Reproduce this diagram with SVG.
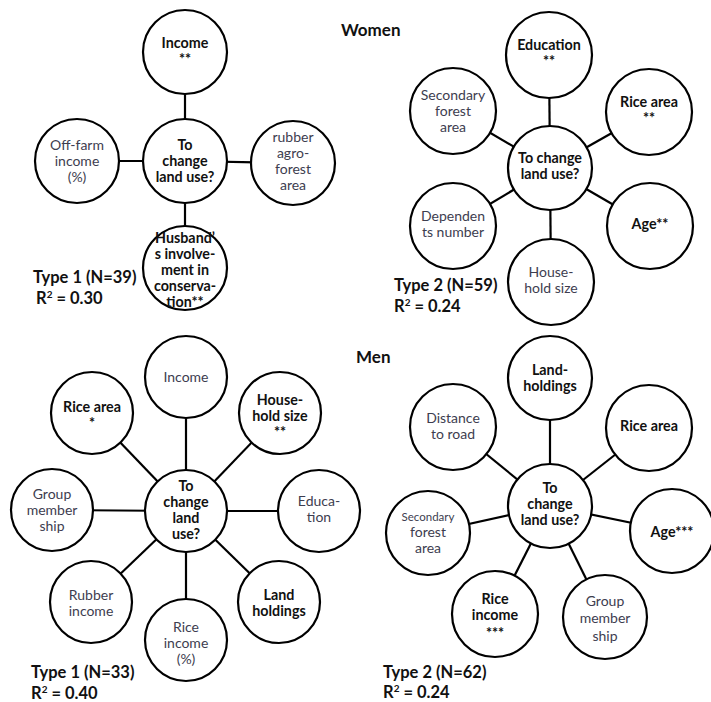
<svg xmlns="http://www.w3.org/2000/svg" width="711" height="702" viewBox="0 0 711 702">
<style>
  .bg { fill: #ffffff; }
  .node circle { fill: #ffffff; stroke: #000000; stroke-width: 2.2; }
  .links line { stroke: #000000; stroke-width: 2.2; }
  text { font-family: Lato, "Open Sans", "Liberation Sans", sans-serif; font-size: 14px; text-anchor: middle; }
  .b { font-weight: bold; fill: #111111; font-size: 14.3px; }
  .n { fill: #3d3d4f; }
  .s { font-size: 11.5px; }
  .h { font-weight: bold; fill: #111111; font-size: 16.5px; text-anchor: start; }
  .sup { font-size: 10px; }
</style>
<rect class="bg" x="0" y="0" width="711" height="702"/>

<g id="connectors" class="links">
  <line x1="185" y1="161" x2="185" y2="52"/>
  <line x1="185" y1="161" x2="77" y2="161"/>
  <line x1="185" y1="161" x2="293" y2="163"/>
  <line x1="185" y1="161" x2="185" y2="268"/>
  <line x1="550" y1="168" x2="549" y2="55"/>
  <line x1="550" y1="168" x2="453" y2="111"/>
  <line x1="550" y1="168" x2="649" y2="112"/>
  <line x1="550" y1="168" x2="453" y2="226"/>
  <line x1="550" y1="168" x2="650" y2="226"/>
  <line x1="550" y1="168" x2="551" y2="282"/>
  <line x1="186" y1="511" x2="186" y2="377"/>
  <line x1="186" y1="511" x2="92" y2="413"/>
  <line x1="186" y1="511" x2="280" y2="413"/>
  <line x1="186" y1="511" x2="52" y2="510"/>
  <line x1="186" y1="511" x2="319" y2="511"/>
  <line x1="186" y1="511" x2="91" y2="602"/>
  <line x1="186" y1="511" x2="186" y2="640"/>
  <line x1="186" y1="511" x2="279" y2="602"/>
  <line x1="550" y1="506" x2="550" y2="378"/>
  <line x1="550" y1="506" x2="453" y2="427"/>
  <line x1="550" y1="506" x2="649" y2="428"/>
  <line x1="550" y1="506" x2="428" y2="533"/>
  <line x1="550" y1="506" x2="671" y2="531"/>
  <line x1="550" y1="506" x2="495" y2="614"/>
  <line x1="550" y1="506" x2="605" y2="617"/>
</g>

<text class="h" x="341" y="36" style="font-size:17px">Women</text>
<text class="h" x="356" y="363" style="font-size:17px">Men</text>

<!-- Women Type 1 -->
<g id="w1-center" class="node">
  <circle cx="185" cy="161" r="42"/>
  <text class="b" x="185" y="150">To<tspan x="185" dy="16">change</tspan><tspan x="185" dy="16">land use?</tspan></text>
</g>
<g id="w1-income" class="node">
  <circle cx="185" cy="52" r="42"/>
  <text class="b" x="185" y="48">Income<tspan x="185" dy="16">**</tspan></text>
</g>
<g id="w1-offfarm" class="node">
  <circle cx="77" cy="161" r="42"/>
  <text class="n" x="77" y="150">Off-farm<tspan x="77" dy="16">income</tspan><tspan x="77" dy="16">(%)</tspan></text>
</g>
<g id="w1-rubber" class="node">
  <circle cx="293" cy="163" r="42"/>
  <text class="n" x="293" y="142">rubber<tspan x="293" dy="16">agro-</tspan><tspan x="293" dy="16">forest</tspan><tspan x="293" dy="16">area</tspan></text>
</g>
<g id="w1-husband" class="node">
  <circle cx="185" cy="268" r="42"/>
  <text class="b" x="185" y="243">Husband’<tspan x="185" dy="16">s involve-</tspan><tspan x="185" dy="16">ment in</tspan><tspan x="185" dy="16">conserva-</tspan><tspan x="185" dy="16">tion**</tspan></text>
</g>
<g id="w1-label">
  <text class="h" x="33" y="283">Type 1 (N=39)<tspan x="36" dy="21">R</tspan><tspan class="sup" dy="-6">2</tspan><tspan dy="6"> = 0.30</tspan></text>
</g>

<!-- Women Type 2 -->
<g id="w2-center" class="node">
  <circle cx="550" cy="168" r="42"/>
  <text class="b" x="550" y="163">To change<tspan x="550" dy="16">land use?</tspan></text>
</g>
<g id="w2-education" class="node">
  <circle cx="549" cy="55" r="43"/>
  <text class="b" x="549" y="50">Education<tspan x="549" dy="16">**</tspan></text>
</g>
<g id="w2-secforest" class="node">
  <circle cx="453" cy="111" r="43"/>
  <text class="n" x="453" y="100">Secondary<tspan x="453" dy="16">forest</tspan><tspan x="453" dy="16">area</tspan></text>
</g>
<g id="w2-ricearea" class="node">
  <circle cx="649" cy="112" r="43"/>
  <text class="b" x="649" y="107">Rice area<tspan x="649" dy="16">**</tspan></text>
</g>
<g id="w2-dependents" class="node">
  <circle cx="453" cy="226" r="43"/>
  <text class="n" x="453" y="221">Dependen<tspan x="453" dy="16">ts number</tspan></text>
</g>
<g id="w2-age" class="node">
  <circle cx="650" cy="226" r="43"/>
  <text class="b" x="650" y="229">Age**</text>
</g>
<g id="w2-household" class="node">
  <circle cx="551" cy="282" r="43"/>
  <text class="n" x="551" y="277">House-<tspan x="551" dy="16">hold size</tspan></text>
</g>
<g id="w2-label">
  <text class="h" x="394" y="291">Type 2 (N=59)<tspan x="394" dy="21">R</tspan><tspan class="sup" dy="-6">2</tspan><tspan dy="6"> = 0.24</tspan></text>
</g>

<!-- Men Type 1 -->
<g id="m1-center" class="node">
  <circle cx="186" cy="511" r="41"/>
  <text class="b" x="186" y="491">To<tspan x="186" dy="16">change</tspan><tspan x="186" dy="16">land</tspan><tspan x="186" dy="16">use?</tspan></text>
</g>
<g id="m1-income" class="node">
  <circle cx="186" cy="377" r="41"/>
  <text class="n" x="186" y="382">Income</text>
</g>
<g id="m1-ricearea" class="node">
  <circle cx="92" cy="413" r="41"/>
  <text class="b" x="92" y="412">Rice area<tspan x="92" dy="16">*</tspan></text>
</g>
<g id="m1-household" class="node">
  <circle cx="280" cy="413" r="41"/>
  <text class="b" x="280" y="405">House-<tspan x="280" dy="16">hold size</tspan><tspan x="280" dy="16">**</tspan></text>
</g>
<g id="m1-group" class="node">
  <circle cx="52" cy="510" r="41"/>
  <text class="n" x="52" y="499">Group<tspan x="52" dy="16">member</tspan><tspan x="52" dy="16">ship</tspan></text>
</g>
<g id="m1-education" class="node">
  <circle cx="319" cy="511" r="41"/>
  <text class="n" x="319" y="506">Educa-<tspan x="319" dy="16">tion</tspan></text>
</g>
<g id="m1-rubber" class="node">
  <circle cx="91" cy="602" r="41"/>
  <text class="n" x="91" y="600">Rubber<tspan x="91" dy="16">income</tspan></text>
</g>
<g id="m1-riceincome" class="node">
  <circle cx="186" cy="640" r="41"/>
  <text class="n" x="186" y="632">Rice<tspan x="186" dy="16">income</tspan><tspan x="186" dy="16">(%)</tspan></text>
</g>
<g id="m1-landholdings" class="node">
  <circle cx="279" cy="602" r="41"/>
  <text class="b" x="279" y="600">Land<tspan x="279" dy="16">holdings</tspan></text>
</g>
<g id="m1-label">
  <text class="h" x="31" y="678">Type 1 (N=33)<tspan x="31" dy="21">R</tspan><tspan class="sup" dy="-6">2</tspan><tspan dy="6"> = 0.40</tspan></text>
</g>

<!-- Men Type 2 -->
<g id="m2-center" class="node">
  <circle cx="550" cy="506" r="42"/>
  <text class="b" x="550" y="493">To<tspan x="550" dy="16">change</tspan><tspan x="550" dy="16">land use?</tspan></text>
</g>
<g id="m2-landholdings" class="node">
  <circle cx="550" cy="378" r="42"/>
  <text class="b" x="550" y="375">Land-<tspan x="550" dy="16">holdings</tspan></text>
</g>
<g id="m2-distance" class="node">
  <circle cx="453" cy="427" r="43"/>
  <text class="n" x="453" y="423">Distance<tspan x="453" dy="16">to road</tspan></text>
</g>
<g id="m2-ricearea" class="node">
  <circle cx="649" cy="428" r="43"/>
  <text class="b" x="649" y="431">Rice area</text>
</g>
<g id="m2-secforest" class="node">
  <circle cx="428" cy="533" r="42"/>
  <text class="n" x="428" y="521"><tspan class="s">Secondary</tspan><tspan x="428" dy="16">forest</tspan><tspan x="428" dy="16">area</tspan></text>
</g>
<g id="m2-age" class="node">
  <circle cx="672" cy="531" r="42"/>
  <text class="b" x="672" y="537">Age***</text>
</g>
<g id="m2-riceincome" class="node">
  <circle cx="495" cy="614" r="43"/>
  <text class="b" x="495" y="604">Rice<tspan x="495" dy="16">income</tspan><tspan x="495" dy="18">***</tspan></text>
</g>
<g id="m2-group" class="node">
  <circle cx="605" cy="617" r="42"/>
  <text class="n" x="605" y="606">Group<tspan x="605" dy="17">member</tspan><tspan x="605" dy="18">ship</tspan></text>
</g>
<g id="m2-label">
  <text class="h" x="383" y="678">Type 2 (N=62)<tspan x="383" dy="20">R</tspan><tspan class="sup" dy="-6">2</tspan><tspan dy="6"> = 0.24</tspan></text>
</g>
</svg>
